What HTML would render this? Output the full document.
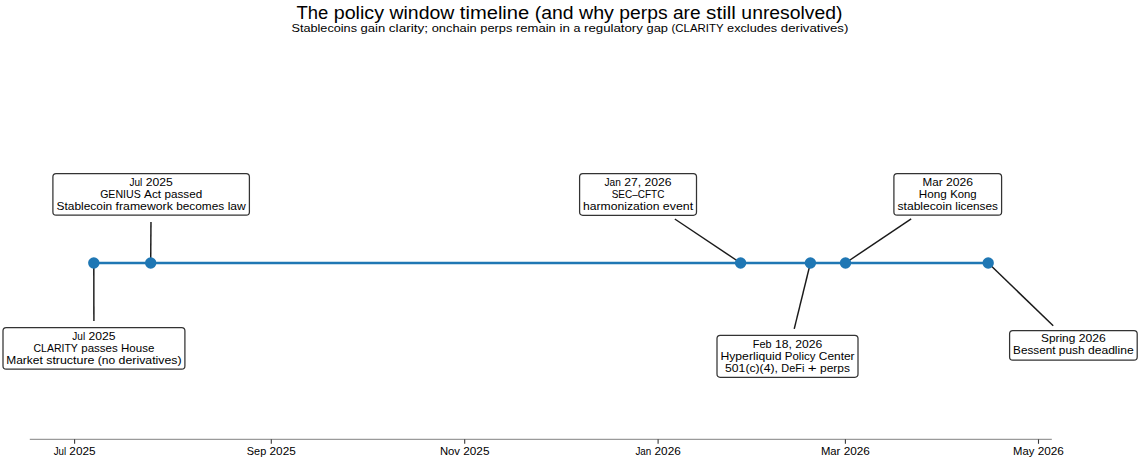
<!DOCTYPE html>
<html><head><meta charset="utf-8">
<style>
html,body{margin:0;padding:0;background:#fff;}
body{width:1140px;height:461px;overflow:hidden;}
svg{display:block;}
text{font-family:"Liberation Sans", sans-serif;}
</style></head><body>
<svg width="1140" height="461" viewBox="0 0 1140 461">
<rect width="1140" height="461" fill="#fff"/>
<text x="296.47" y="18.90" font-size="17.5" textLength="31.80" lengthAdjust="spacingAndGlyphs" fill="#000">The</text>
<text x="333.71" y="18.90" font-size="17.5" textLength="50.34" lengthAdjust="spacingAndGlyphs" fill="#000">policy</text>
<text x="389.49" y="18.90" font-size="17.5" textLength="64.88" lengthAdjust="spacingAndGlyphs" fill="#000">window</text>
<text x="459.80" y="18.90" font-size="17.5" textLength="69.49" lengthAdjust="spacingAndGlyphs" fill="#000">timeline</text>
<text x="534.73" y="18.90" font-size="17.5" textLength="38.84" lengthAdjust="spacingAndGlyphs" fill="#000">(and</text>
<text x="579.01" y="18.90" font-size="17.5" textLength="34.94" lengthAdjust="spacingAndGlyphs" fill="#000">why</text>
<text x="619.39" y="18.90" font-size="17.5" textLength="48.17" lengthAdjust="spacingAndGlyphs" fill="#000">perps</text>
<text x="672.99" y="18.90" font-size="17.5" textLength="27.65" lengthAdjust="spacingAndGlyphs" fill="#000">are</text>
<text x="706.08" y="18.90" font-size="17.5" textLength="29.87" lengthAdjust="spacingAndGlyphs" fill="#000">still</text>
<text x="741.39" y="18.90" font-size="17.5" textLength="101.14" lengthAdjust="spacingAndGlyphs" fill="#000">unresolved)</text>
<text x="291.45" y="31.70" font-size="11.6" textLength="65.57" lengthAdjust="spacingAndGlyphs" fill="#000">Stablecoins</text>
<text x="360.64" y="31.70" font-size="11.6" textLength="24.57" lengthAdjust="spacingAndGlyphs" fill="#000">gain</text>
<text x="388.83" y="31.70" font-size="11.6" textLength="39.26" lengthAdjust="spacingAndGlyphs" fill="#000">clarity;</text>
<text x="431.71" y="31.70" font-size="11.6" textLength="44.99" lengthAdjust="spacingAndGlyphs" fill="#000">onchain</text>
<text x="480.32" y="31.70" font-size="11.6" textLength="32.06" lengthAdjust="spacingAndGlyphs" fill="#000">perps</text>
<text x="515.99" y="31.70" font-size="11.6" textLength="39.86" lengthAdjust="spacingAndGlyphs" fill="#000">remain</text>
<text x="559.47" y="31.70" font-size="11.6" textLength="10.37" lengthAdjust="spacingAndGlyphs" fill="#000">in</text>
<text x="573.46" y="31.70" font-size="11.6" textLength="6.97" lengthAdjust="spacingAndGlyphs" fill="#000">a</text>
<text x="584.06" y="31.70" font-size="11.6" textLength="58.84" lengthAdjust="spacingAndGlyphs" fill="#000">regulatory</text>
<text x="646.51" y="31.70" font-size="11.6" textLength="21.42" lengthAdjust="spacingAndGlyphs" fill="#000">gap</text>
<text x="671.55" y="31.70" font-size="11.6" textLength="51.94" lengthAdjust="spacingAndGlyphs" fill="#000">(CLARITY</text>
<text x="727.11" y="31.70" font-size="11.6" textLength="50.12" lengthAdjust="spacingAndGlyphs" fill="#000">excludes</text>
<text x="780.85" y="31.70" font-size="11.6" textLength="67.50" lengthAdjust="spacingAndGlyphs" fill="#000">derivatives)</text>
<line x1="93.90" y1="320.90" x2="93.80" y2="263.00" stroke="#1a1a1a" stroke-width="1.45"/>
<line x1="150.97" y1="221.90" x2="150.70" y2="263.00" stroke="#1a1a1a" stroke-width="1.45"/>
<line x1="674.81" y1="219.02" x2="740.60" y2="263.00" stroke="#1a1a1a" stroke-width="1.45"/>
<line x1="794.24" y1="328.89" x2="810.40" y2="263.00" stroke="#1a1a1a" stroke-width="1.45"/>
<line x1="911.18" y1="218.93" x2="845.50" y2="263.00" stroke="#1a1a1a" stroke-width="1.45"/>
<line x1="1053.22" y1="325.84" x2="988.20" y2="263.00" stroke="#1a1a1a" stroke-width="1.45"/>
<line x1="93.8" y1="263" x2="988.2" y2="263" stroke="#1f77b4" stroke-width="2.3"/>
<circle cx="93.8" cy="263.0" r="5.7" fill="#1f77b4"/>
<circle cx="150.7" cy="263.0" r="5.7" fill="#1f77b4"/>
<circle cx="740.6" cy="263.0" r="5.7" fill="#1f77b4"/>
<circle cx="810.4" cy="263.0" r="5.7" fill="#1f77b4"/>
<circle cx="845.5" cy="263.0" r="5.7" fill="#1f77b4"/>
<circle cx="988.2" cy="263.0" r="5.7" fill="#1f77b4"/>
<rect x="3.00" y="327.60" width="181.90" height="41.60" rx="3.2" ry="3.2" fill="#fff" stroke="#333333" stroke-width="1.25"/>
<text x="72.32" y="339.70" font-size="10.9" textLength="12.83" lengthAdjust="spacingAndGlyphs" fill="#000">Jul</text>
<text x="88.53" y="339.70" font-size="10.9" textLength="27.05" lengthAdjust="spacingAndGlyphs" fill="#000">2025</text>
<text x="33.52" y="351.70" font-size="10.9" textLength="44.37" lengthAdjust="spacingAndGlyphs" fill="#000">CLARITY</text>
<text x="81.27" y="351.70" font-size="10.9" textLength="36.42" lengthAdjust="spacingAndGlyphs" fill="#000">passes</text>
<text x="121.06" y="351.70" font-size="10.9" textLength="33.31" lengthAdjust="spacingAndGlyphs" fill="#000">House</text>
<text x="6.27" y="363.70" font-size="10.9" textLength="36.54" lengthAdjust="spacingAndGlyphs" fill="#000">Market</text>
<text x="46.19" y="363.70" font-size="10.9" textLength="48.24" lengthAdjust="spacingAndGlyphs" fill="#000">structure</text>
<text x="97.81" y="363.70" font-size="10.9" textLength="17.39" lengthAdjust="spacingAndGlyphs" fill="#000">(no</text>
<text x="118.58" y="363.70" font-size="10.9" textLength="63.05" lengthAdjust="spacingAndGlyphs" fill="#000">derivatives)</text>
<rect x="52.90" y="173.60" width="196.50" height="41.60" rx="3.2" ry="3.2" fill="#fff" stroke="#333333" stroke-width="1.25"/>
<text x="129.52" y="185.70" font-size="10.9" textLength="12.83" lengthAdjust="spacingAndGlyphs" fill="#000">Jul</text>
<text x="145.73" y="185.70" font-size="10.9" textLength="27.05" lengthAdjust="spacingAndGlyphs" fill="#000">2025</text>
<text x="100.13" y="197.70" font-size="10.9" textLength="40.57" lengthAdjust="spacingAndGlyphs" fill="#000">GENIUS</text>
<text x="144.07" y="197.70" font-size="10.9" textLength="17.10" lengthAdjust="spacingAndGlyphs" fill="#000">Act</text>
<text x="164.55" y="197.70" font-size="10.9" textLength="37.63" lengthAdjust="spacingAndGlyphs" fill="#000">passed</text>
<text x="56.49" y="209.70" font-size="10.9" textLength="55.71" lengthAdjust="spacingAndGlyphs" fill="#000">Stablecoin</text>
<text x="115.58" y="209.70" font-size="10.9" textLength="57.25" lengthAdjust="spacingAndGlyphs" fill="#000">framework</text>
<text x="176.20" y="209.70" font-size="10.9" textLength="48.07" lengthAdjust="spacingAndGlyphs" fill="#000">becomes</text>
<text x="227.65" y="209.70" font-size="10.9" textLength="18.16" lengthAdjust="spacingAndGlyphs" fill="#000">law</text>
<rect x="579.60" y="173.60" width="116.90" height="41.70" rx="3.2" ry="3.2" fill="#fff" stroke="#333333" stroke-width="1.25"/>
<text x="604.50" y="185.70" font-size="10.9" textLength="16.39" lengthAdjust="spacingAndGlyphs" fill="#000">Jan</text>
<text x="624.26" y="185.70" font-size="10.9" textLength="16.91" lengthAdjust="spacingAndGlyphs" fill="#000">27,</text>
<text x="644.55" y="185.70" font-size="10.9" textLength="27.05" lengthAdjust="spacingAndGlyphs" fill="#000">2026</text>
<text x="611.63" y="197.70" font-size="10.9" textLength="52.84" lengthAdjust="spacingAndGlyphs" fill="#000">SEC–CFTC</text>
<text x="583.00" y="209.70" font-size="10.9" textLength="76.44" lengthAdjust="spacingAndGlyphs" fill="#000">harmonization</text>
<text x="662.82" y="209.70" font-size="10.9" textLength="30.28" lengthAdjust="spacingAndGlyphs" fill="#000">event</text>
<rect x="717.00" y="335.40" width="141.00" height="41.90" rx="3.2" ry="3.2" fill="#fff" stroke="#333333" stroke-width="1.25"/>
<text x="752.73" y="347.50" font-size="10.9" textLength="18.82" lengthAdjust="spacingAndGlyphs" fill="#000">Feb</text>
<text x="774.93" y="347.50" font-size="10.9" textLength="16.91" lengthAdjust="spacingAndGlyphs" fill="#000">18,</text>
<text x="795.22" y="347.50" font-size="10.9" textLength="27.05" lengthAdjust="spacingAndGlyphs" fill="#000">2026</text>
<text x="720.43" y="359.50" font-size="10.9" textLength="61.03" lengthAdjust="spacingAndGlyphs" fill="#000">Hyperliquid</text>
<text x="784.84" y="359.50" font-size="10.9" textLength="30.58" lengthAdjust="spacingAndGlyphs" fill="#000">Policy</text>
<text x="818.80" y="359.50" font-size="10.9" textLength="35.78" lengthAdjust="spacingAndGlyphs" fill="#000">Center</text>
<text x="725.06" y="371.50" font-size="10.9" textLength="52.86" lengthAdjust="spacingAndGlyphs" fill="#000">501(c)(4),</text>
<text x="781.31" y="371.50" font-size="10.9" textLength="23.02" lengthAdjust="spacingAndGlyphs" fill="#000">DeFi</text>
<text x="807.71" y="371.50" font-size="10.9" textLength="8.91" lengthAdjust="spacingAndGlyphs" fill="#000">+</text>
<text x="819.99" y="371.50" font-size="10.9" textLength="29.94" lengthAdjust="spacingAndGlyphs" fill="#000">perps</text>
<rect x="893.90" y="173.60" width="107.70" height="41.60" rx="3.2" ry="3.2" fill="#fff" stroke="#333333" stroke-width="1.25"/>
<text x="922.51" y="185.70" font-size="10.9" textLength="20.06" lengthAdjust="spacingAndGlyphs" fill="#000">Mar</text>
<text x="945.94" y="185.70" font-size="10.9" textLength="27.05" lengthAdjust="spacingAndGlyphs" fill="#000">2026</text>
<text x="918.85" y="197.70" font-size="10.9" textLength="27.98" lengthAdjust="spacingAndGlyphs" fill="#000">Hong</text>
<text x="950.22" y="197.70" font-size="10.9" textLength="26.43" lengthAdjust="spacingAndGlyphs" fill="#000">Kong</text>
<text x="897.49" y="209.70" font-size="10.9" textLength="54.50" lengthAdjust="spacingAndGlyphs" fill="#000">stablecoin</text>
<text x="955.37" y="209.70" font-size="10.9" textLength="42.64" lengthAdjust="spacingAndGlyphs" fill="#000">licenses</text>
<rect x="1009.60" y="330.50" width="127.60" height="29.70" rx="3.2" ry="3.2" fill="#fff" stroke="#333333" stroke-width="1.25"/>
<text x="1041.03" y="342.10" font-size="10.9" textLength="34.30" lengthAdjust="spacingAndGlyphs" fill="#000">Spring</text>
<text x="1078.72" y="342.10" font-size="10.9" textLength="27.05" lengthAdjust="spacingAndGlyphs" fill="#000">2026</text>
<text x="1013.10" y="354.10" font-size="10.9" textLength="42.35" lengthAdjust="spacingAndGlyphs" fill="#000">Bessent</text>
<text x="1058.83" y="354.10" font-size="10.9" textLength="25.76" lengthAdjust="spacingAndGlyphs" fill="#000">push</text>
<text x="1087.97" y="354.10" font-size="10.9" textLength="45.73" lengthAdjust="spacingAndGlyphs" fill="#000">deadline</text>
<line x1="29.8" y1="439.3" x2="1051.8" y2="439.3" stroke="#9a9a9a" stroke-width="1.2"/>
<line x1="74.6" y1="439.3" x2="74.6" y2="443.8" stroke="#3a3a3a" stroke-width="1.1"/>
<text x="53.64" y="454.60" font-size="10.6" textLength="12.43" lengthAdjust="spacingAndGlyphs" fill="#000">Jul</text>
<text x="69.34" y="454.60" font-size="10.6" textLength="26.21" lengthAdjust="spacingAndGlyphs" fill="#000">2025</text>
<line x1="271.3" y1="439.3" x2="271.3" y2="443.8" stroke="#3a3a3a" stroke-width="1.1"/>
<text x="246.85" y="454.60" font-size="10.6" textLength="19.41" lengthAdjust="spacingAndGlyphs" fill="#000">Sep</text>
<text x="269.54" y="454.60" font-size="10.6" textLength="26.21" lengthAdjust="spacingAndGlyphs" fill="#000">2025</text>
<line x1="464.7" y1="439.3" x2="464.7" y2="443.8" stroke="#3a3a3a" stroke-width="1.1"/>
<text x="439.91" y="454.60" font-size="10.6" textLength="20.10" lengthAdjust="spacingAndGlyphs" fill="#000">Nov</text>
<text x="463.28" y="454.60" font-size="10.6" textLength="26.21" lengthAdjust="spacingAndGlyphs" fill="#000">2025</text>
<line x1="658.1" y1="439.3" x2="658.1" y2="443.8" stroke="#3a3a3a" stroke-width="1.1"/>
<text x="635.42" y="454.60" font-size="10.6" textLength="15.88" lengthAdjust="spacingAndGlyphs" fill="#000">Jan</text>
<text x="654.57" y="454.60" font-size="10.6" textLength="26.21" lengthAdjust="spacingAndGlyphs" fill="#000">2026</text>
<line x1="845.4" y1="439.3" x2="845.4" y2="443.8" stroke="#3a3a3a" stroke-width="1.1"/>
<text x="820.94" y="454.60" font-size="10.6" textLength="19.43" lengthAdjust="spacingAndGlyphs" fill="#000">Mar</text>
<text x="843.65" y="454.60" font-size="10.6" textLength="26.21" lengthAdjust="spacingAndGlyphs" fill="#000">2026</text>
<line x1="1038.5" y1="439.3" x2="1038.5" y2="443.8" stroke="#3a3a3a" stroke-width="1.1"/>
<text x="1013.11" y="454.60" font-size="10.6" textLength="21.29" lengthAdjust="spacingAndGlyphs" fill="#000">May</text>
<text x="1037.68" y="454.60" font-size="10.6" textLength="26.21" lengthAdjust="spacingAndGlyphs" fill="#000">2026</text>
</svg>
</body></html>
